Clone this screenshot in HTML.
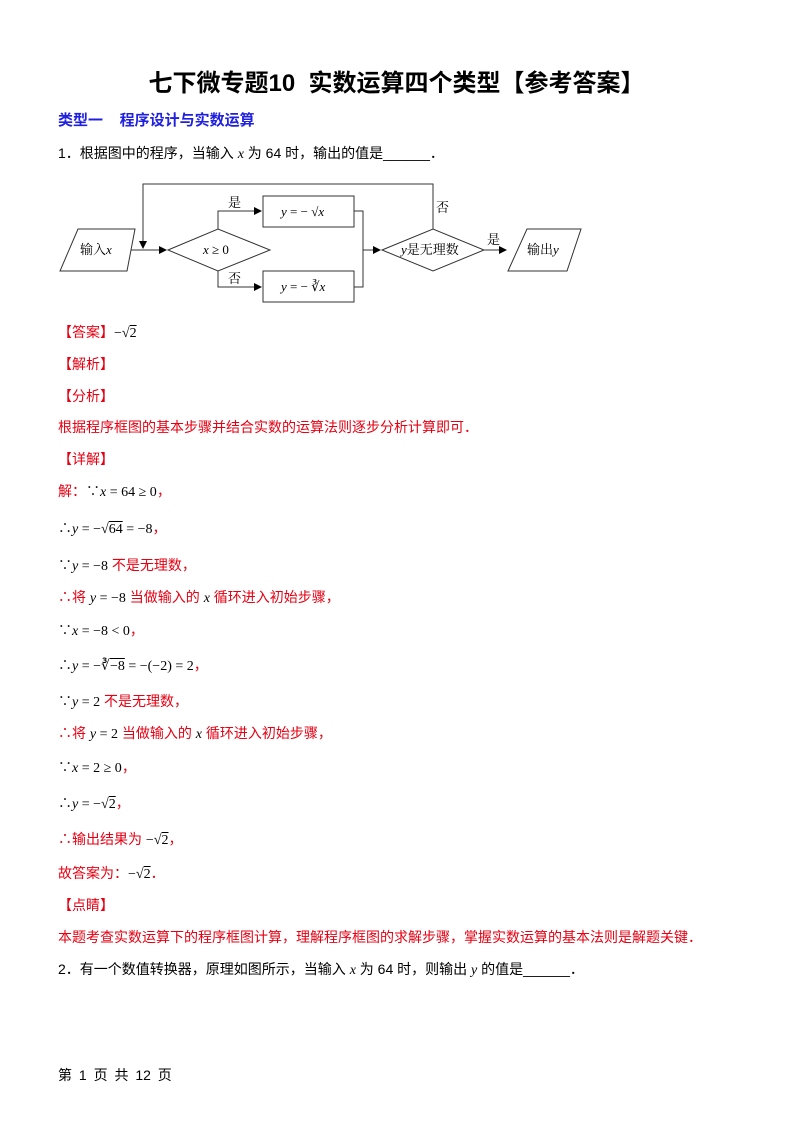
<!DOCTYPE html>
<html><head><meta charset="utf-8"><style>
body{margin:0;width:793px;height:1122px;background:#fff;position:relative;font-family:"Liberation Sans","Noto Sans CJK SC",sans-serif;font-size:14px;color:#000}
.l{position:absolute;left:58px;white-space:nowrap;line-height:20px}
.r{color:#e60012}
.m{font-family:"Liberation Serif","Noto Serif CJK SC",serif;color:#000}
i{font-family:"Liberation Serif",serif}
.sq{text-decoration:overline}
</style></head><body>
<div class="l" style="left:0;width:793px;text-align:center;top:71px;font-size:24px;font-weight:bold;line-height:26px">七下微专题10&nbsp; 实数运算四个类型【参考答案】</div>
<div class="l" style="top:111px;color:#2020e0;font-weight:bold;font-size:15px">类型一&nbsp;&nbsp;&nbsp; 程序设计与实数运算</div>
<div class="l" style="top:143px">1．根据图中的程序，当输入 <i>x</i> 为 64 时，输出的值是______．</div>
<svg style="position:absolute;left:0;top:0" width="793" height="320" font-family="Liberation Serif,Noto Serif CJK SC,serif" font-size="13">
<defs><marker id="a" markerWidth="8" markerHeight="8" refX="7" refY="4" orient="auto" markerUnits="userSpaceOnUse"><path d="M0,0L8,4L0,8z" fill="#000"/></marker></defs>
<g fill="none" stroke="#333" stroke-width="1">
<polygon points="78,229 135,229 127,271 60,271"/>
<line x1="131" y1="250" x2="166" y2="250" marker-end="url(#a)"/>
<polyline points="433,229 433,184 143,184 143,248" marker-end="url(#a)"/>
<polygon points="168,250 218,229 270,250 218,271"/>
<polyline points="218,229 218,211 261,211" marker-end="url(#a)"/>
<polyline points="218,271 218,287 261,287" marker-end="url(#a)"/>
<rect x="263" y="196" width="91" height="31"/>
<rect x="263" y="271" width="91" height="31"/>
<polyline points="354,211 363,211 363,287 354,287"/>
<line x1="363" y1="250" x2="380" y2="250" marker-end="url(#a)"/>
<polygon points="382,250 433,229 484,250 433,271"/>
<line x1="484" y1="250" x2="506" y2="250" marker-end="url(#a)"/>
<polygon points="527,229 581,229 567,271 508,271"/>
</g>
<g fill="#000">
<text x="80" y="254">输入<tspan font-style="italic">x</tspan></text>
<text x="203" y="254"><tspan font-style="italic">x</tspan> ≥ 0</text>
<text x="228" y="207">是</text><text x="228" y="283">否</text>
<text x="436" y="212">否</text><text x="487" y="244">是</text>
<text x="281" y="216"><tspan font-style="italic">y</tspan> = − √<tspan font-style="italic">x</tspan></text>
<text x="281" y="291"><tspan font-style="italic">y</tspan> = − ∛<tspan font-style="italic">x</tspan></text>
<text x="401" y="254"><tspan font-style="italic">y</tspan>是无理数</text>
<text x="527" y="254">输出<tspan font-style="italic">y</tspan></text>
</g></svg>
<div class="l r" style="top:322px">【答案】<span class="m">−√<span class="sq">2</span></span></div>
<div class="l r" style="top:354px">【解析】</div>
<div class="l r" style="top:386px">【分析】</div>
<div class="l r" style="top:417px">根据程序框图的基本步骤并结合实数的运算法则逐步分析计算即可．</div>
<div class="l r" style="top:449px">【详解】</div>
<div class="l r" style="top:481px">解：<span class="m">∵<i>x</i> = 64 ≥ 0</span>，</div>
<div class="l r" style="top:518px"><span class="m">∴<i>y</i> = −√<span class="sq">64</span> = −8</span>，</div>
<div class="l r" style="top:555px"><span class="m">∵<i>y</i> = −8</span> 不是无理数，</div>
<div class="l r" style="top:587px">∴将 <span class="m"><i>y</i> = −8</span> 当做输入的 <i class="m">x</i> 循环进入初始步骤，</div>
<div class="l r" style="top:620px"><span class="m">∵<i>x</i> = −8 &lt; 0</span>，</div>
<div class="l r" style="top:655px"><span class="m">∴<i>y</i> = −∛<span class="sq">−8</span> = −(−2) = 2</span>，</div>
<div class="l r" style="top:691px"><span class="m">∵<i>y</i> = 2</span> 不是无理数，</div>
<div class="l r" style="top:723px">∴将 <span class="m"><i>y</i> = 2</span> 当做输入的 <i class="m">x</i> 循环进入初始步骤，</div>
<div class="l r" style="top:757px"><span class="m">∵<i>x</i> = 2 ≥ 0</span>，</div>
<div class="l r" style="top:793px"><span class="m">∴<i>y</i> = −√<span class="sq">2</span></span>，</div>
<div class="l r" style="top:829px">∴输出结果为 <span class="m">−√<span class="sq">2</span></span>，</div>
<div class="l r" style="top:863px">故答案为：<span class="m">−√<span class="sq">2</span></span>．</div>
<div class="l r" style="top:895px">【点睛】</div>
<div class="l r" style="top:927px">本题考查实数运算下的程序框图计算，理解程序框图的求解步骤，掌握实数运算的基本法则是解题关键．</div>
<div class="l" style="top:959px">2．有一个数值转换器，原理如图所示，当输入 <i>x</i> 为 64 时，则输出 <i>y</i> 的值是______．</div>
<div class="l" style="top:1065px;word-spacing:3px">第 1 页 共 12 页</div>
</body></html>
